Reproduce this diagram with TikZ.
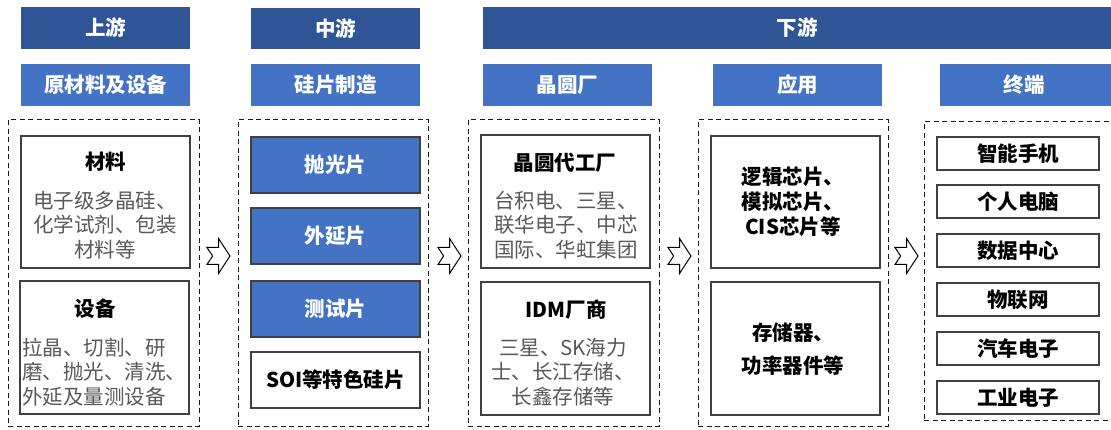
\documentclass[tikz,border=0pt]{standalone}
\usepackage{fontspec}
\setmainfont{Noto Sans CJK SC}
\usetikzlibrary{calc}
\definecolor{dblue}{HTML}{2F5597}
\definecolor{mblue}{HTML}{4472C4}
\definecolor{tgray}{HTML}{595959}
\definecolor{bgray}{HTML}{404040}
\tikzset{
  hdr/.style={fill=dblue, draw=none, text=white, font=\fontsize{20.5}{24}\selectfont\bfseries},
  sub/.style={fill=mblue, draw=none, text=white, font=\fontsize{20.5}{24}\selectfont\bfseries},
  grp/.style={draw=black!90, dash pattern=on 5pt off 3.5pt, line width=1pt},
  card/.style={draw=bgray, line width=1.3pt, fill=white},
  bluecard/.style={card, fill=mblue, text=white, font=\fontsize{20.5}{24}\selectfont\bfseries},
  item/.style={card, text=black, font=\fontsize{20.5}{24}\selectfont\bfseries},
  ttl/.style={text=black, font=\fontsize{20.5}{24}\selectfont\bfseries, inner sep=0pt},
  desc/.style={text=tgray, font=\fontsize{20.5}{24.5}\selectfont, align=center, inner sep=0pt},
  bdesc/.style={text=black, font=\fontsize{20.5}{25}\selectfont\bfseries, align=center, inner sep=0pt},
  chev/.style={draw=black, line width=1pt, fill=white, line join=miter},
  chevron/.pic={\path[chev] (0,-8.5) -- (11.5,-8.5) -- (11.5,-17.5) -- (23,0) -- (11.5,17.5) -- (11.5,8.5) -- (0,8.5) -- (5.6,0) -- cycle;}
}
\newcommand\mkbox[7]{\node[#2, minimum width={(#5-#3)*1pt}, minimum height={(#6-#4)*1pt}, inner sep=0pt, outer sep=0pt] (#1) at ({(#3+#5)/2},{(#4+#6)/2}) {#7};}
\begin{document}
\begin{tikzpicture}[x=1pt,y=-1pt]
\clip (0,0) rectangle (1111,430);
\fill[white] (0,0) rectangle (1111,430);
% headers
\mkbox{h1}{hdr}{21}{7}{190}{49}{上游}
\mkbox{h2}{hdr}{251}{8}{420}{49}{中游}
\node[hdr, minimum width=634pt, minimum height=42pt, inner sep=0pt, outer sep=0pt, anchor=west] (h3) at (483,28) {};
\node[text=white, font=\fontsize{20.5}{24}\selectfont\bfseries] (h3t) at (797,28) {下游};
% sub headers
\mkbox{s1}{sub}{21}{64}{190}{106}{原材料及设备}
\mkbox{s2}{sub}{251}{64}{420}{106}{硅片制造}
\mkbox{s3}{sub}{483}{64}{652}{106}{晶圆厂}
\mkbox{s4}{sub}{713}{64}{882}{106}{应用}
\mkbox{s5}{sub}{940}{64}{1116}{106}{}
\node[text=white, font=\fontsize{20.5}{24}\selectfont\bfseries] (s5t) at (1024,85) {终端};
% dashed groups
\mkbox{g1}{grp}{8}{120}{199}{426}{}
\mkbox{g2}{grp}{238}{120}{428}{426}{}
\mkbox{g3}{grp}{468}{120}{659}{426}{}
\mkbox{g4}{grp}{698}{120}{888}{426}{}
\mkbox{g5}{grp}{924}{122}{1118}{420}{}
% column 1
\mkbox{c11}{card}{21}{136}{190}{268}{}
\node[ttl] (t11) at (105.5,162) {材料};
\node[desc] (d11) at (105,225) {电子级多晶硅、\\化学试剂、包装\\材料等};
\mkbox{c12}{card}{20}{281}{189}{414}{}
\node[ttl] (t12) at (95,309) {设备};
\node[desc, align=left, anchor=west] (d12) at (22,372) {拉晶、切割、研\\磨、抛光、清洗、\\外延及量测设备};
% column 2
\mkbox{c21}{bluecard}{251}{137}{420}{193}{抛光片}
\mkbox{c22}{bluecard}{251}{208}{420}{264}{外延片}
\mkbox{c23}{bluecard}{251}{281}{420}{337}{测试片}
\mkbox{c24}{item}{251}{352}{420}{408}{SOI等特色硅片}
% column 3
\mkbox{c31}{card}{481}{135}{650}{268}{}
\node[ttl] (t31) at (565,163) {晶圆代工厂};
\node[desc] (d31) at (566,225) {台积电、三星、\\联华电子、中芯\\国际、华虹集团};
\mkbox{c32}{card}{481}{282}{650}{415}{}
\node[ttl] (t32) at (566,310) {IDM厂商};
\node[desc] (d32) at (563,372) {三星、SK海力\\士、长江存储、\\长鑫存储等};
% column 4
\mkbox{c41}{card}{711}{136}{880}{268}{}
\node[bdesc] (d41) at (793,202) {逻辑芯片、\\模拟芯片、\\CIS芯片等};
\mkbox{c42}{card}{711}{282}{880}{415}{}
\node[bdesc] (d42) at (793,349.5) {存储器、\\[8pt]功率器件等};
% column 5
\mkbox{c51}{item}{937}{137}{1099}{170}{智能手机}
\mkbox{c52}{item}{937}{185}{1099}{218}{个人电脑}
\mkbox{c53}{item}{937}{234}{1099}{267}{数据中心}
\mkbox{c54}{item}{937}{283}{1099}{316}{物联网}
\mkbox{c55}{item}{937}{332}{1099}{365}{汽车电子}
\mkbox{c56}{item}{937}{381}{1099}{414}{工业电子}
% chevrons
\pic at (207,256) {chevron};
\pic at (438,256) {chevron};
\pic at (668,256) {chevron};
\pic at (895,256) {chevron};
\end{tikzpicture}
\end{document}
